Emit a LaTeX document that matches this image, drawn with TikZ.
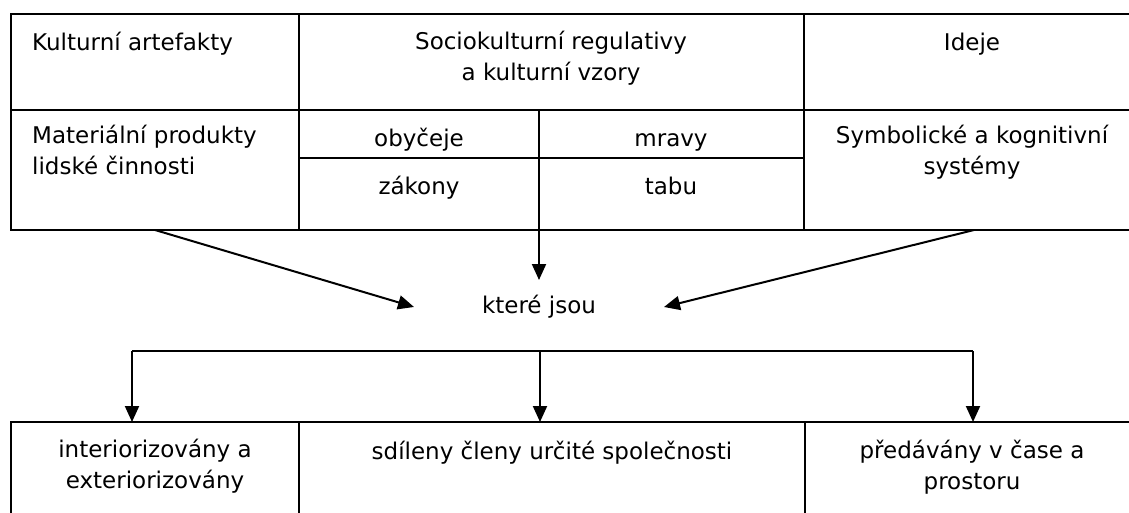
\documentclass[tikz,border=0pt]{standalone}
\usepackage{fontspec}
\setmainfont{DejaVu Sans}
\usetikzlibrary{arrows.meta,shapes.geometric}

\begin{document}
\begin{tikzpicture}[x=1pt,y=-1pt,
  cell/.style={draw, line width=2pt, inner sep=0pt, outer sep=0pt, anchor=north west},
  txt/.style={font=\fontsize{23}{31}\selectfont, inner sep=0pt, align=center},
  arr/.style={line width=2pt, -{Triangle[length=16pt,width=14pt]}}]

\clip (0,0) rectangle (1129,513);
\fill[white] (0,0) rectangle (1129,513);

% Top table
\node[cell, minimum width=288, minimum height=96] (kult) at (11,14) {};
\node[cell, minimum width=505, minimum height=96] (soc) at (299,14) {};
\node[cell, minimum width=340, minimum height=96] (idej) at (804,14) {};
\node[cell, minimum width=288, minimum height=120] (mat) at (11,110) {};
\node[cell, minimum width=240, minimum height=48] (oby) at (299,110) {};
\node[cell, minimum width=265, minimum height=48] (mrav) at (539,110) {};
\node[cell, minimum width=240, minimum height=72] (zak) at (299,158) {};
\node[cell, minimum width=265, minimum height=72] (tabu) at (539,158) {};
\node[cell, minimum width=340, minimum height=120] (sym) at (804,110) {};

% Texts of the top table (base = last line)
\node[txt, anchor=base west] (kultT) at (32,51) {Kulturní artefakty};
\node[txt, anchor=base] (socT) at (551,81) {Sociokulturní regulativy\\a kulturní vzory};
\node[txt, anchor=base] (idejT) at (972,51) {Ideje};
\node[txt, anchor=base west, align=left] (matT) at (32,175) {Materiální produkty\\lidské činnosti};
\node[txt, anchor=base] (obyT) at (419,147) {obyčeje};
\node[txt, anchor=base] (mravT) at (671,147) {mravy};
\node[txt, anchor=base] (zakT) at (419,195) {zákony};
\node[txt, anchor=base] (tabuT) at (671,195) {tabu};
\node[txt, anchor=base] (symT) at (972,175) {Symbolické a kognitivní\\systémy};

% Middle
\node[ellipse, minimum width=250, minimum height=54, inner sep=0pt, outer sep=0pt,
  font=\fontsize{23}{31}\selectfont] (kjsou) at (539,307) {které jsou};

\draw[arr] (mat.south) -- (kjsou.west);
\draw[arr] (zak.south east) -- (kjsou.north);
\draw[arr] (sym.south) -- (kjsou.east);

% Bottom table
\node[cell, minimum width=288, minimum height=140] (inter) at (11,422) {};
\node[cell, minimum width=506, minimum height=140] (sdil) at (299,422) {};
\node[cell, minimum width=340, minimum height=140] (pred) at (805,422) {};

\node[txt, anchor=base] (interT) at (155,488) {interiorizovány a\\exteriorizovány};
\node[txt, anchor=base] (sdilT) at (552,459) {sdíleny členy určité společnosti};
\node[txt, anchor=base] (predT) at (972,489) {předávány v čase a\\prostoru};

% Branches
\coordinate (barL) at (132,351);
\coordinate (barM) at (540,351);
\coordinate (barR) at (973,351);
\draw[line width=2pt] (barL) -- (barR);
\draw[arr] (barL) -- (barL |- inter.north);
\draw[arr] (barM) -- (barM |- sdil.north);
\draw[arr] (barR) -- (barR |- pred.north);

\end{tikzpicture}
\end{document}
